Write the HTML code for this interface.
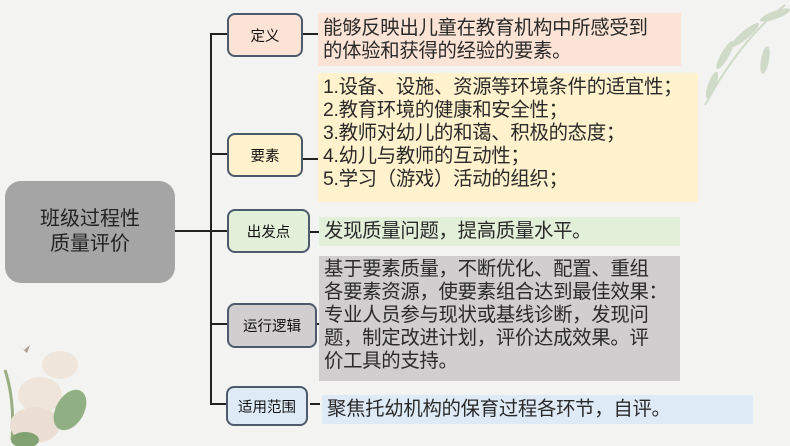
<!DOCTYPE html>
<html><head><meta charset="utf-8"><style>
*{margin:0;padding:0;box-sizing:border-box}
body{width:790px;height:446px;background:#f3f3f2;position:relative;overflow:hidden;font-family:"Liberation Sans","Noto Sans CJK SC",sans-serif;color:#222}
.a{position:absolute}
.n{position:absolute;border:2px solid #4d5a6b;border-radius:8px;display:flex;align-items:center;justify-content:center;font-size:14.5px;color:#111}
.t{position:absolute;font-size:19.4px;line-height:23px;padding-left:5px;color:#2a2a2a;white-space:nowrap;letter-spacing:-0.3px}
.l{position:absolute;background:#222}
</style></head><body>
<svg class="a" style="left:0;top:0" width="790" height="446">
 <g opacity="0.4" fill="#9cb58a">
  <ellipse cx="745" cy="35" rx="18" ry="4" transform="rotate(-40 745 35)"/>
  <ellipse cx="725" cy="55" rx="16" ry="4" transform="rotate(-60 725 55)"/>
  <ellipse cx="765" cy="60" rx="14" ry="4" transform="rotate(-80 765 60)"/>
  <ellipse cx="712" cy="85" rx="14" ry="4" transform="rotate(-70 712 85)"/>
  <ellipse cx="775" cy="15" rx="16" ry="4" transform="rotate(-20 775 15)"/>
  <path d="M785 5 Q740 40 705 105" stroke="#9cb58a" stroke-width="2" fill="none"/>
 </g>
 <g opacity="0.85">
  <path d="M5 370 Q15 400 12 440" stroke="#8aa36e" stroke-width="3" fill="none"/>
  <ellipse cx="40" cy="395" rx="22" ry="18" fill="#efe3d6"/>
  <ellipse cx="60" cy="365" rx="18" ry="14" fill="#efe3d6"/>
  <ellipse cx="35" cy="425" rx="25" ry="18" fill="#e9dccd"/>
  <ellipse cx="70" cy="410" rx="14" ry="22" fill="#7fa46f" transform="rotate(30 70 410)"/>
  <ellipse cx="25" cy="440" rx="14" ry="8" fill="#6f955f"/>
  <path d="M18 345 l6 5 l6-5 l-3 8z" fill="#a08a82"/>
 </g>
</svg>
<div class="a" style="left:5px;top:181px;width:170px;height:102px;background:#a5a5a5;border-radius:16px;display:flex;align-items:center;justify-content:center;text-align:center;font-size:20px;line-height:25px;color:#222">班级过程性<br>质量评价</div>
<div class="l" style="left:175px;top:230px;width:52px;height:2px"></div>
<div class="l" style="left:210px;top:33px;width:2px;height:372px"></div>
<div class="l" style="left:210px;top:33px;width:17px;height:2px"></div>
<div class="l" style="left:210px;top:153px;width:17px;height:2px"></div>
<div class="l" style="left:210px;top:323px;width:17px;height:2px"></div>
<div class="l" style="left:210px;top:403px;width:17px;height:2px"></div>
<div class="l" style="left:302px;top:33px;width:16px;height:2px"></div>
<div class="l" style="left:302px;top:158px;width:16px;height:2px"></div>
<div class="l" style="left:310px;top:231px;width:9px;height:2px"></div>
<div class="l" style="left:317px;top:323px;width:3px;height:2px"></div>
<div class="l" style="left:310px;top:403px;width:10px;height:2px"></div>
<div class="n" style="left:227px;top:13px;width:76px;height:44px;background:#fbe4d5">定义</div>
<div class="n" style="left:227px;top:133px;width:76px;height:44px;background:#fff2cc">要素</div>
<div class="n" style="left:227px;top:209px;width:83px;height:44px;background:#e2efd9">出发点</div>
<div class="n" style="left:227px;top:303px;width:90px;height:45px;background:#d0cece">运行逻辑</div>
<div class="n" style="left:226px;top:386px;width:82px;height:40px;background:#deebf7">适用范围</div>
<div class="t" style="left:318px;top:13px;width:363px;height:53px;background:#fbe4d5;padding-top:4px">能够反映出儿童在教育机构中所感受到<br>的体验和获得的经验的要素。</div>
<div class="t" style="left:318px;top:73px;width:380px;height:129px;background:#fff2cc;padding-top:3px">1.设备、设施、资源等环境条件的适宜性；<br>2.教育环境的健康和安全性；<br>3.教师对幼儿的和蔼、积极的态度；<br>4.幼儿与教师的互动性；<br>5.学习（游戏）活动的组织；</div>
<div class="t" style="left:319px;top:217px;width:361px;height:29px;background:#e2efd9;padding-top:3px">发现质量问题，提高质量水平。</div>
<div class="t" style="left:319px;top:256px;width:361px;height:125px;background:#d0cece;padding-top:2px">基于要素质量，不断优化、配置、重组<br>各要素资源，使要素组合达到最佳效果：<br>专业人员参与现状或基线诊断，发现问<br>题，制定改进计划，评价达成效果。评<br>价工具的支持。</div>
<div class="t" style="left:322px;top:395px;width:431px;height:29px;background:#deebf7;padding-top:3px">聚焦托幼机构的保育过程各环节，自评。</div>
</body></html>
